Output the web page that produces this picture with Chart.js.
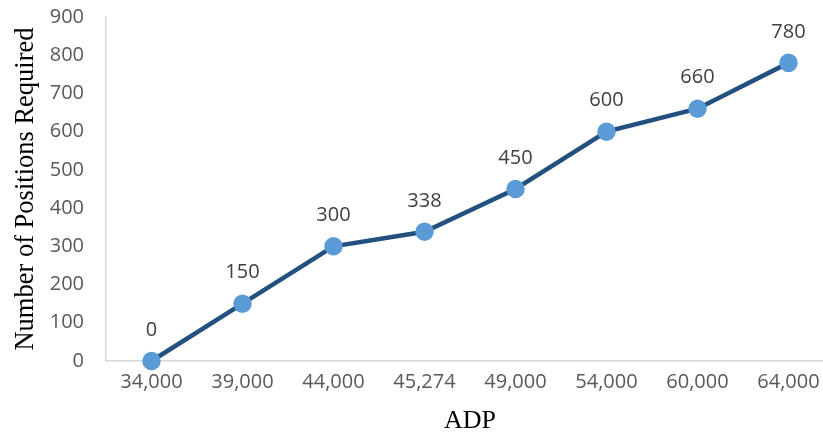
<!DOCTYPE html>
<html>
<head>
<meta charset="utf-8">
<script src="https://cdn.jsdelivr.net/npm/chart.js@4"></script>
<style>
  html, body { margin: 0; padding: 0; background: #fff; overflow: hidden; }
  #wrap { width: 835px; height: 434px; position: relative; }
  #c { width: 835px; height: 434px; display: block; }
</style>
</head>
<body>
<div id="wrap"><canvas id="c" width="835" height="434"></canvas></div>
<script>
// ADP levels and the number of positions required at each
const adpLabels = ['34,000', '39,000', '44,000', '45,274', '49,000', '54,000', '60,000', '64,000'];
const positions = [0, 150, 300, 338, 450, 600, 660, 780];
const yTicks = [0, 100, 200, 300, 400, 500, 600, 700, 800, 900];

// Value labels drawn above each point
const valueLabels = {
  id: 'valueLabels',
  afterDatasetsDraw(chart) {
    const ctx = chart.ctx;
    const meta = chart.getDatasetMeta(0);
    ctx.save();
    ctx.font = '20px "Open Sans"';
    ctx.fillStyle = '#404040';
    ctx.textAlign = 'center';
    ctx.textBaseline = 'middle';
    meta.data.forEach((pt, i) => {
      ctx.fillText(String(positions[i]), pt.x, pt.y - 31);
    });
    ctx.restore();
  }
};

new Chart(document.getElementById('c'), {
  type: 'line',
  data: {
    labels: adpLabels,
    datasets: [{
      data: positions,
      borderColor: '#22507F',
      borderWidth: 4.5,
      pointBackgroundColor: '#5B9BD5',
      pointBorderColor: '#5B9BD5',
      pointRadius: 7,
      pointHoverRadius: 7,
      tension: 0,
      fill: false,
      clip: false
    }]
  },
  options: {
    responsive: false,
    animation: false,
    events: [],
    layout: { autoPadding: false, padding: { top: 0, right: 1, bottom: 0, left: 0 } },
    plugins: { legend: { display: false }, tooltip: { enabled: false } },
    scales: {
      x: {
        offset: true,
        grid: { display: false, drawTicks: false },
        border: { color: '#D9D9D9', width: 1.5 },
        ticks: { color: '#595959', font: { family: 'Open Sans', size: 20 }, padding: 9, maxRotation: 0, autoSkip: false },
        title: { display: true, text: 'ADP', color: '#000', font: { family: 'Liberation Serif', size: 26, lineHeight: 1 }, padding: { top: 0, bottom: 0 } },
        afterFit(scale) { scale.height = 73; scale.paddingLeft = 0; scale.paddingRight = 0; }
      },
      y: {
        min: 0,
        max: 900,
        afterBuildTicks(scale) { scale.ticks = yTicks.map(v => ({ value: v })); },
        grid: { display: false, drawTicks: false },
        border: { color: '#D9D9D9', width: 1.5 },
        ticks: { color: '#595959', font: { family: 'Open Sans', size: 20 }, padding: 22 },
        title: { display: true, text: 'Number of Positions Required', color: '#000', font: { family: 'Liberation Serif', size: 26.5, lineHeight: 1 }, padding: { top: 13, bottom: 0 } },
        afterFit(scale) { scale.width = 106; scale.paddingTop = 17; scale.paddingBottom = 0; }
      }
    }
  },
  plugins: [valueLabels]
});
</script>
</body>
</html>
